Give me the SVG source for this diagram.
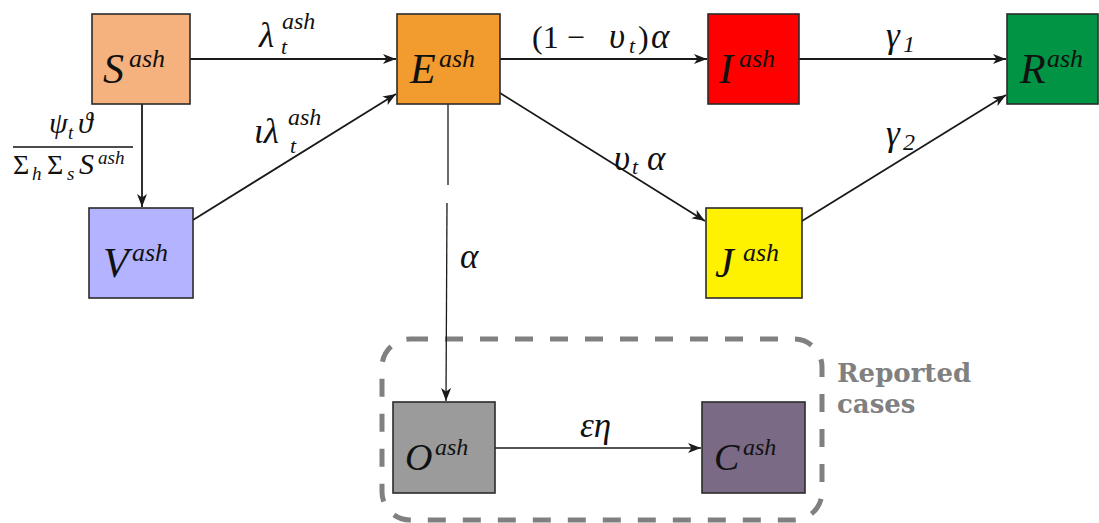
<svg xmlns="http://www.w3.org/2000/svg" width="1099" height="523" viewBox="0 0 1099 523">
<style>
.box{stroke:#2b2b2b;stroke-width:1.6}
.big{font-family:"Liberation Serif",serif;font-style:italic;font-size:42px;fill:#111}
.mid{font-family:"Liberation Serif",serif;font-style:italic;font-size:38px;fill:#111}
.sup{font-family:"Liberation Serif",serif;font-style:italic;font-size:26px;fill:#111}
.sup2{font-family:"Liberation Serif",serif;font-style:italic;font-size:24px;fill:#111}
.lab{font-family:"Liberation Serif",serif;font-style:italic;font-size:35px;fill:#111}
.labu{font-family:"Liberation Serif",serif;font-style:normal;font-size:32px;fill:#111}
.sub{font-family:"Liberation Serif",serif;font-style:italic;font-size:22px;fill:#111}
.frac{font-family:"Liberation Serif",serif;font-style:italic;font-size:30px;fill:#111}
.fracu{font-family:"Liberation Serif",serif;font-style:normal;font-size:28px;fill:#111}
.fsub{font-family:"Liberation Serif",serif;font-style:italic;font-size:19px;fill:#111}
.conn{fill:none;stroke:#1a1a1a;stroke-width:1.8}
.thin{fill:none;stroke:#1a1a1a;stroke-width:1.3}
</style>
<defs>
<marker id="ah" markerUnits="userSpaceOnUse" markerWidth="14" markerHeight="12" refX="13" refY="5" orient="auto">
<path d="M0,0 L13,5 L0,10 L3.5,5 Z" fill="#1a1a1a"/>
</marker>
</defs>
<rect width="1099" height="523" fill="#ffffff"/>

<g id="reported-group">
<rect x="382" y="339" width="440" height="181" rx="28" ry="28" fill="none" stroke="#808080" stroke-width="5" stroke-dasharray="18 17"/>
<text x="837" y="382" font-family="DejaVu Serif" font-weight="bold" font-size="26" fill="#808080">Reported</text>
<text x="837" y="413" font-family="DejaVu Serif" font-weight="bold" font-size="26" fill="#808080">cases</text>
</g>

<g id="connectors">
<path class="conn" d="M190,59 L396,59" marker-end="url(#ah)"/>
<path class="conn" d="M142,104 L142,207" marker-end="url(#ah)"/>
<path class="conn" d="M193,220 L396,94" marker-end="url(#ah)"/>
<path class="conn" d="M500,59 L707,59" marker-end="url(#ah)"/>
<path class="conn" d="M500,93 L705,221" marker-end="url(#ah)"/>
<path class="thin" d="M448,104 L448,185"/>
<path class="thin" d="M447,203 L446,401" marker-end="url(#ah)"/>
<path class="conn" d="M799,59 L1006,59" marker-end="url(#ah)"/>
<path class="conn" d="M802,221 L1006,95" marker-end="url(#ah)"/>
<path class="thin" d="M495,448 L701,448" marker-end="url(#ah)"/>

<text class="lab" x="259" y="47">λ</text><text class="sub" x="281" y="54">t</text><text class="sup2" x="282" y="29">ash</text>
<text class="lab" x="254" y="143">ιλ</text><text class="sub" x="290" y="153">t</text><text class="sup2" x="288" y="125">ash</text>

<text class="frac" x="49" y="133">ψ</text><text class="fsub" x="68" y="139">t</text><text class="frac" x="78" y="133">ϑ</text>
<line x1="13" y1="147" x2="133" y2="147" stroke="#111" stroke-width="1.6"/>
<text class="fracu" x="13" y="174">Σ</text><text class="fsub" x="32" y="180">h</text>
<text class="fracu" x="47" y="174">Σ</text><text class="fsub" x="67" y="180">s</text>
<text class="frac" x="79" y="174">S</text><text class="fsub" x="98" y="164">ash</text>

<text class="labu" x="532" y="48">(1 −</text><text class="lab" x="609" y="48">υ</text><text class="sub" x="629" y="53">t</text><text class="labu" x="638" y="48">)</text><text class="lab" x="651" y="48">α</text>
<text class="lab" x="614" y="170">υ</text><text class="sub" x="632" y="174">t</text><text class="lab" x="647" y="170">α</text>
<text class="lab" x="460" y="268">α</text>
<text class="lab" x="886" y="47">γ</text><text class="sup2" x="903" y="52" font-style="normal">1</text>
<text class="lab" x="886" y="145">γ</text><text class="sup2" x="903" y="150" font-style="normal">2</text>
<text class="lab" x="580" y="437">εη</text>
</g>

<g id="node-S"><rect class="box" x="92" y="14" width="98" height="90" fill="#F6B27E"/><text class="big" x="103" y="83">S</text><text class="sup" x="129" y="67">ash</text></g>
<g id="node-E"><rect class="box" x="397" y="14" width="103" height="90" fill="#F29B2E"/><text class="big" x="410" y="83">E</text><text class="sup" x="439" y="67">ash</text></g>
<g id="node-I"><rect class="box" x="708" y="14" width="91" height="90" fill="#FF0000"/><text class="big" x="719" y="83">I</text><text class="sup" x="739" y="67">ash</text></g>
<g id="node-R"><rect class="box" x="1007" y="14" width="91" height="90" fill="#009444"/><text class="big" x="1020" y="83">R</text><text class="sup" x="1047" y="67">ash</text></g>
<g id="node-V"><rect class="box" x="89" y="208" width="104" height="90" fill="#B3B3FF"/><text class="big" x="103" y="277">V</text><text class="sup" x="132" y="261">ash</text></g>
<g id="node-J"><rect class="box" x="706" y="208" width="96" height="90" fill="#FFF200"/><text class="big" x="715" y="277">J</text><text class="sup" x="743" y="261">ash</text></g>
<g id="node-O"><rect class="box" x="393" y="402" width="102" height="91" fill="#9A9B9A"/><text class="mid" x="405" y="470">O</text><text class="sup2" x="435" y="455">ash</text></g>
<g id="node-C"><rect class="box" x="702" y="402" width="103" height="91" fill="#7A6A86"/><text class="mid" x="714" y="470">C</text><text class="sup2" x="743" y="455">ash</text></g>
</svg>
